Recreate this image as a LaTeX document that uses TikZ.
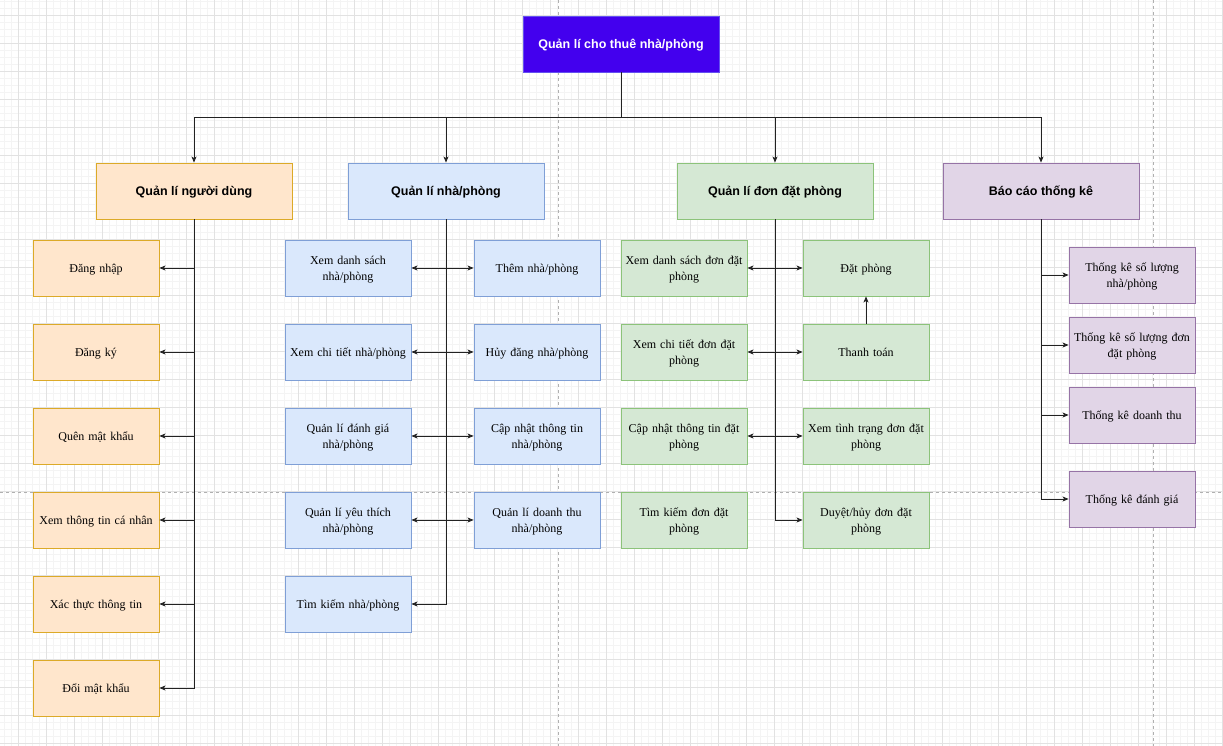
\documentclass[tikz,border=0pt]{standalone}
\usepackage{fontspec}
\setmainfont{Liberation Serif}
\newfontfamily\hdrfont{Liberation Sans}
\usetikzlibrary{arrows.meta}
\definecolor{rootfill}{RGB}{67,0,238}
\definecolor{rootdraw}{RGB}{100,80,240}
\definecolor{ofill}{HTML}{FFE6CC}
\definecolor{odraw}{HTML}{DCAA28}
\definecolor{bfill}{HTML}{DAE8FC}
\definecolor{bdraw}{HTML}{7F9FD6}
\definecolor{gfill}{HTML}{D5E8D4}
\definecolor{gdraw}{HTML}{8CC37A}
\definecolor{pfill}{HTML}{E1D5E7}
\definecolor{pdraw}{HTML}{9673A6}
\definecolor{gridmajor}{HTML}{E2E2E2}
\definecolor{gridminor}{HTML}{F4F4F4}
\definecolor{pagebreak}{HTML}{B0B0B0}
\definecolor{linecol}{HTML}{222222}
\newcommand\bodytop{\rule{0pt}{11pt}}
\newcommand\bodybot{\rule[-2.9pt]{0pt}{2.9pt}}
\newcommand\headtop{\rule{0pt}{11.5pt}}
\newcommand\headbot{\rule[-2.84pt]{0pt}{2.84pt}}
\tikzset{
  box/.style={rectangle, minimum width=126pt, minimum height=56pt, inner sep=0pt,
    line width=0.9pt, align=center, text width=122pt,
    font=\fontsize{12}{16}\selectfont,
    execute at begin node=\bodytop, execute at end node=\bodybot},
  headbox/.style={rectangle, minimum width=196pt, minimum height=56pt, inner sep=0pt,
    line width=0.9pt, align=center, font=\hdrfont\bfseries\fontsize{12.5}{15}\selectfont,
    execute at begin node=\headtop, execute at end node=\headbot},
  obox/.style={box, fill=ofill, draw=odraw},
  bbox/.style={box, fill=bfill, draw=bdraw},
  gbox/.style={box, fill=gfill, draw=gdraw},
  pbox/.style={box, fill=pfill, draw=pdraw},
  conn/.style={draw=linecol, line width=0.8pt, -{Stealth[length=6pt,width=5pt,inset=1.5pt]}},
  dconn/.style={draw=linecol, line width=0.8pt, {Stealth[length=6pt,width=5pt,inset=1.5pt]}-{Stealth[length=6pt,width=5pt,inset=1.5pt]}},
  minorline/.style={draw=gridminor, line width=0.6pt},
  majorline/.style={draw=gridmajor, line width=0.8pt},
  pageline/.style={draw=pagebreak, line width=0.8pt, dash pattern=on 3pt off 3pt},
}
\begin{document}
\begin{tikzpicture}[x=1pt,y=-1pt]
\useasboundingbox (0,0) rectangle (1223,746);
\fill[white] (0,0) rectangle (1223,746);
% grid
\foreach \i in {-2,...,174} { \draw[minorline] ({18.3+7*\i},0) -- ({18.3+7*\i},746); }
\foreach \i in {-2,...,105} { \draw[minorline] (0,{15+7*\i}) -- (1223,{15+7*\i}); }
\foreach \i in {0,...,43} { \draw[majorline] ({18.3+28*\i},0) -- ({18.3+28*\i},746); }
\foreach \i in {0,...,26} { \draw[majorline] (0,{15+28*\i}) -- (1223,{15+28*\i}); }
% page breaks
\draw[pageline] (558,0) -- (558,746);
\draw[pageline] (1153,0) -- (1153,746);
\draw[pageline] (0,492) -- (1223,492);

% root
\node[headbox, fill=rootfill, draw=rootdraw, text=white] (root) at (621,44) {Quản lí cho thuê nhà/phòng};
% level 2
\node[headbox, fill=ofill, draw=odraw] (u) at (194,191) {Quản lí người dùng};
\node[headbox, fill=bfill, draw=bdraw] (h) at (446,191) {Quản lí nhà/phòng};
\node[headbox, fill=gfill, draw=gdraw] (b) at (775,191) {Quản lí đơn đặt phòng};
\node[headbox, fill=pfill, draw=pdraw] (s) at (1041,191) {Báo cáo thống kê};

% users
\node[obox] (u1) at (96,268) {Đăng nhập};
\node[obox] (u2) at (96,352) {Đăng ký};
\node[obox] (u3) at (96,436) {Quên mật khẩu};
\node[obox] (u4) at (96,520) {Xem thông tin cá nhân};
\node[obox] (u5) at (96,604) {Xác thực thông tin};
\node[obox] (u6) at (96,688) {Đổi mật khẩu};

% houses
\node[bbox] (h1l) at (348,268) {Xem danh sách\\nhà/phòng};
\node[bbox] (h2l) at (348,352) {Xem chi tiết nhà/phòng};
\node[bbox] (h3l) at (348,436) {Quản lí đánh giá\\nhà/phòng};
\node[bbox] (h4l) at (348,520) {Quản lí yêu thích\\nhà/phòng};
\node[bbox] (h5l) at (348,604) {Tìm kiếm nhà/phòng};
\node[bbox] (h1r) at (537,268) {Thêm nhà/phòng};
\node[bbox] (h2r) at (537,352) {Hủy đăng nhà/phòng};
\node[bbox] (h3r) at (537,436) {Cập nhật thông tin\\nhà/phòng};
\node[bbox] (h4r) at (537,520) {Quản lí doanh thu\\nhà/phòng};

% bookings
\node[gbox] (b1l) at (684,268) {Xem danh sách đơn đặt\\phòng};
\node[gbox] (b2l) at (684,352) {Xem chi tiết đơn đặt\\phòng};
\node[gbox] (b3l) at (684,436) {Cập nhật thông tin đặt\\phòng};
\node[gbox] (b4l) at (684,520) {Tìm kiếm đơn đặt\\phòng};
\node[gbox] (b1r) at (866,268) {Đặt phòng};
\node[gbox] (b2r) at (866,352) {Thanh toán};
\node[gbox] (b3r) at (866,436) {Xem tình trạng đơn đặt\\phòng};
\node[gbox] (b4r) at (866,520) {Duyệt/hủy đơn đặt\\phòng};

% stats
\node[pbox] (s1) at (1132,275) {Thống kê số lượng\\nhà/phòng};
\node[pbox] (s2) at (1132,345) {Thống kê số lượng đơn\\đặt phòng};
\node[pbox] (s3) at (1132,415) {Thống kê doanh thu};
\node[pbox] (s4) at (1132,499) {Thống kê đánh giá};

% root connectors
\coordinate (bus) at (621,117);
\draw[conn] (root.south) -- (bus) -| (u.north);
\draw[conn] (root.south) -- (bus) -| (h.north);
\draw[conn] (root.south) -- (bus) -| (b.north);
\draw[conn] (root.south) -- (bus) -| (s.north);

% user connectors
\foreach \n in {u1,u2,u3,u4,u5,u6} { \draw[conn] (u.south) |- (\n.east); }

% house connectors
\draw[conn] (h.south) |- (h5l.east);
\draw[dconn] (h1l.east) -- (h1r.west);
\draw[dconn] (h2l.east) -- (h2r.west);
\draw[dconn] (h3l.east) -- (h3r.west);
\draw[dconn] (h4l.east) -- (h4r.west);

% booking connectors
\draw[conn] (b.south) |- (b4r.west);
\draw[dconn] (b1l.east) -- (b1r.west);
\draw[dconn] (b2l.east) -- (b2r.west);
\draw[dconn] (b3l.east) -- (b3r.west);
\draw[conn] (b2r.north) -- (b1r.south);

% stats connectors
\foreach \n in {s1,s2,s3,s4} { \draw[conn] (s.south) |- (\n.west); }
\end{tikzpicture}
\end{document}
